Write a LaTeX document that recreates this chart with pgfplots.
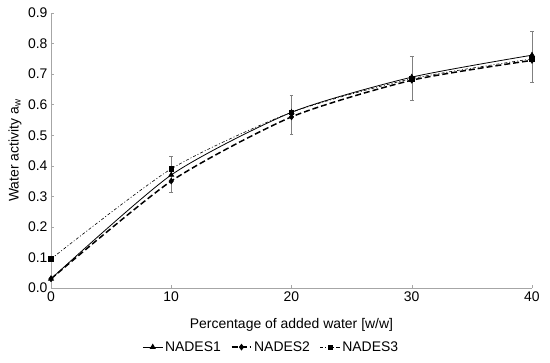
\documentclass[border=0pt]{standalone}
\usepackage{pgfplots}
\pgfplotsset{compat=1.18}
\usepackage{fontspec}
\setmainfont{Liberation Sans}
\begin{document}
\begin{tikzpicture}
\path (-51bp,-75bp) rectangle (499bp,288bp);
\begin{axis}[
  scale only axis, width=481bp, height=275bp,
  xmin=0, xmax=40, ymin=0, ymax=0.9,
  xtick={0,10,20,30,40}, ytick={0,0.1,...,0.9},
  axis lines=left, axis line style={gray!70, -}, 
  tick style={gray!70, line width=0.5pt}, tick align=inside,
  major tick length=3pt,
  /pgf/number format/assume math mode=true,
  yticklabel style={/pgf/number format/fixed, /pgf/number format/fixed zerofill, /pgf/number format/precision=1, font=\fontsize{14}{16}\selectfont},
  xticklabel style={font=\fontsize{14}{16}\selectfont},
  label style={font=\fontsize{14}{16}\selectfont},
  xlabel={Percentage of added water [w/w]},
  ylabel={Water activity a\textsubscript{w}},
  xlabel style={at={(axis description cs:0.5,-0.135)}, anchor=center},
  ylabel style={at={(axis description cs:-0.075,0.5)}, anchor=center},
  legend style={at={(axis description cs:0.458,-0.215)}, anchor=center, draw=none, legend columns=3, font=\fontsize{14}{16}\selectfont, /tikz/every even column/.append style={column sep=8pt}, inner xsep=0pt},
  legend image code/.code={\draw[#1, mark repeat=2, mark phase=2] plot coordinates {(0cm,0cm) (0.35cm,0cm) (0.7cm,0cm)};},
  clip=false,
]
\addplot[black, line width=0.8pt, smooth, tension=0.4, mark=triangle*, mark size=2.8pt, mark options={solid},
  error bars/.cd, y dir=both, y explicit, error bar style={gray, line width=0.5pt}, error mark options={rotate=90, gray, mark size=2pt, line width=0.5pt}]
  coordinates {(0,0.03) +- (0,0) (10,0.37) += (0,0.062) -= (0,0.055) (20,0.575) += (0,0.057) -= (0,0.071) (30,0.69) += (0,0.07) -= (0,0.075) (40,0.762) += (0,0.077) -= (0,0.087)};
\addlegendentry{NADES1}
\addplot[black, line width=1.5pt, dashed, dash pattern=on 6pt off 3pt, smooth, tension=0.4, mark=diamond*, mark size=3pt, mark options={solid, line width=0.5pt}]
  coordinates {(0,0.03) (10,0.35) (20,0.56) (30,0.68) (40,0.745)};
\addlegendentry{NADES2}
\addplot[black, line width=0.6pt, dash pattern=on 3pt off 2pt on 1pt off 2pt, smooth, tension=0.4, mark=square*, mark size=2.3pt, mark options={solid}]
  coordinates {(0,0.095) (10,0.39) (20,0.575) (30,0.685) (40,0.75)};
\addlegendentry{NADES3}
\end{axis}
\end{tikzpicture}
\end{document}
